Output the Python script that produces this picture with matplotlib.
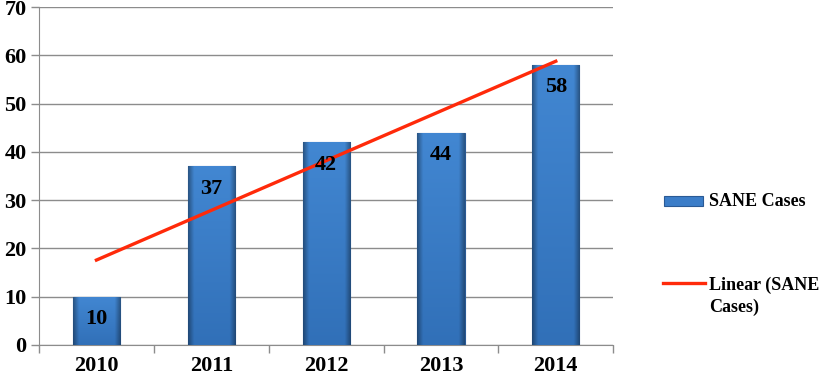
import numpy as np
import matplotlib
matplotlib.use("Agg")
import matplotlib.pyplot as plt
from matplotlib.lines import Line2D
from matplotlib.patches import Rectangle
from matplotlib.colors import to_rgb

# データ
years = ["2010", "2011", "2012", "2013", "2014"]
cases = [10, 37, 42, 44, 58]
legend_labels = ["SANE Cases", "Linear (SANE", "Cases)"]

plt.rcParams['font.family'] = ['Liberation Serif', 'DejaVu Serif']

fig = plt.figure(figsize=(8.25, 3.77), dpi=100)
ax = fig.add_axes([0.0473, 0.0849, 0.696, 0.896])

x = np.arange(len(years))
bars = ax.bar(x, cases, width=0.41, color='#3b7dc8', edgecolor='#2a5a95',
              linewidth=0.8, zorder=3)

# 棒の塗り：上から下へ少し暗く、左右の端にベベル
top = np.array(to_rgb('#4287d2'))
bot = np.array(to_rgb('#3170b8'))
t = np.linspace(0, 1, 100)[:, None, None]
base = top * (1 - t) + bot * t
u = np.linspace(0, 1, 40)
edge = 1 - 0.35 * np.clip(1 - np.minimum(u, 1 - u) / 0.12, 0, 1)
img = np.clip(base * edge[None, :, None], 0, 1)
for b in bars:
    im = ax.imshow(img, aspect='auto', zorder=3.5, interpolation='bilinear',
                   extent=[b.get_x(), b.get_x() + b.get_width(), 0, b.get_height()],
                   origin='upper')
    im.set_clip_path(b)
ax.set_aspect('auto')

# 棒の中の数値
for xi, v in zip(x, cases):
    ax.annotate(str(v), (xi, v), xytext=(0, -16), textcoords='offset points',
                ha='center', va='center', fontsize=16, fontweight='bold',
                color='black', zorder=5)

# 線形近似
coef = np.polyfit(x, cases, 1)
xt = np.array([x[0], x[-1]])
ax.plot(xt, np.polyval(coef, xt), color='#ff2a0a', linewidth=2.4, zorder=4)

ax.set_xlim(-0.5, len(years) - 0.5)
ax.set_ylim(0, 70)
ax.set_yticks(range(0, 71, 10))
ax.yaxis.grid(True, color='#8c8c8c', linewidth=1.0, zorder=0)
ax.set_axisbelow(True)

# 目盛り：境界に線、中央にラベル
ax.set_xticks(np.arange(-0.5, len(years), 1.0))
ax.set_xticklabels([])
ax.set_xticks(x, minor=True)
ax.set_xticklabels(years, minor=True)
ax.tick_params(axis='x', which='major', direction='out', length=6,
               color='#8c8c8c', width=1)
ax.tick_params(axis='x', which='minor', length=0, pad=8, labelsize=16)
ax.tick_params(axis='y', direction='out', length=6, color='#8c8c8c',
               width=1, labelsize=16, pad=3)
for lab in ax.get_xticklabels(minor=True) + ax.get_yticklabels():
    lab.set_fontweight('bold')

for s in ['top', 'right']:
    ax.spines[s].set_visible(False)
for s in ['left', 'bottom']:
    ax.spines[s].set_color('#8c8c8c')

# 凡例（手書き）
W, H = 825.0, 377.0
fig.add_artist(Rectangle((664 / W, 1 - 206 / H), 39 / W, 10 / H,
                         transform=fig.transFigure, facecolor='#3b7dc8',
                         edgecolor='#2a5a95', linewidth=0.8))
fig.add_artist(Line2D([663 / W, 705 / W], [1 - 283 / H, 1 - 283 / H],
                      transform=fig.transFigure, color='#ff2a0a', linewidth=2.4))
for lab, py in zip(legend_labels, [201, 285, 307]):
    fig.text(709 / W, 1 - py / H, lab, fontsize=13,
             fontweight='bold', va='center', ha='left')

fig.savefig("out.png", dpi=100)
